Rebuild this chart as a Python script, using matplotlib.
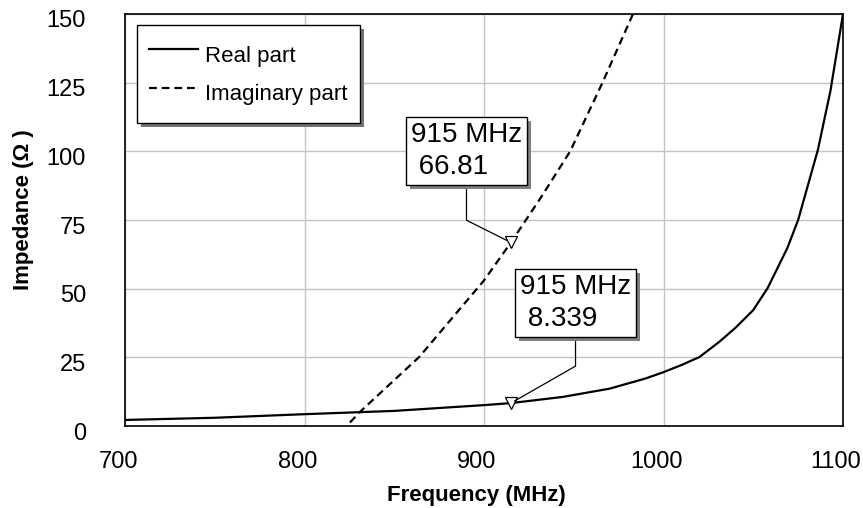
import matplotlib
matplotlib.use("Agg")
import matplotlib.pyplot as plt
import matplotlib.patheffects as pe
from matplotlib.transforms import ScaledTranslation

plt.rcParams['font.family'] = ['Liberation Sans', 'DejaVu Sans']

# data
freq_real = [700, 750, 800, 850, 900, 915, 944, 970, 990, 1000, 1010, 1020,
             1031, 1040, 1050, 1058, 1069, 1075, 1086, 1093, 1100]
real_part = [2.2, 3.0, 4.3, 5.5, 7.6, 8.34, 10.6, 13.6, 17.3, 19.6, 22.2, 25.1,
             30.6, 35.7, 42.2, 50.2, 64.8, 75, 100.5, 122, 150]

freq_imag = [815, 823.5, 831, 864, 900, 915, 932, 948, 966, 983, 990]
imag_part = [-5, 0, 5.2, 25.2, 53, 66.81, 83.5, 100, 125, 150, 161]

marker_freq = 915
marker_imag = 66.81
marker_real = 8.339

x_ticks = [700, 800, 900, 1000, 1100]
y_ticks = [0, 25, 50, 75, 100, 125, 150]

fig = plt.figure(figsize=(8.63, 5.08), dpi=100)
ax = fig.add_axes([125 / 863, 82 / 508, 718 / 863, 412 / 508])

ax.plot(freq_real, real_part, color='black', lw=1.6, label='Real part')
ax.plot(freq_imag, imag_part, color='black', lw=1.6, linestyle=(0, (3.5, 2.2)),
        label='Imaginary part')

ax.set_xlim(700, 1100)
ax.set_ylim(0, 150)
ax.set_xticks(x_ticks)
ax.set_yticks(y_ticks)
ax.grid(True, color='#c4c4c4', lw=1)
ax.set_axisbelow(True)
for s in ax.spines.values():
    s.set_linewidth(1.2)
ax.tick_params(length=0, labelsize=17)
ax.tick_params(axis='x', pad=18)
ax.tick_params(axis='y', pad=28)

# nudge tick labels a little like the original
dx = ScaledTranslation(-7 / 100, 0, fig.dpi_scale_trans)
dy = ScaledTranslation(0, -5 / 100, fig.dpi_scale_trans)
for lbl in ax.get_xticklabels():
    lbl.set_transform(lbl.get_transform() + dx)
for lbl in ax.get_yticklabels():
    lbl.set_transform(lbl.get_transform() + dy)

ax.set_xlabel('Frequency (MHz)', fontsize=16, fontweight='bold')
ax.set_ylabel('Impedance (Ω )', fontsize=16, fontweight='bold')
ax.xaxis.label.set_va('center')
ax.yaxis.label.set_va('center')
ax.xaxis.set_label_coords(0.489, -0.1675)
ax.yaxis.set_label_coords(-0.142, 0.524)

leg = ax.legend(loc='upper left', bbox_to_anchor=(0.017, 0.973), borderaxespad=0,
                fontsize=16, frameon=True, fancybox=False, edgecolor='black',
                framealpha=1, handlelength=2.2, handletextpad=0.3,
                handleheight=2.0, labelspacing=0.2, borderpad=0.55)
leg.get_frame().set_linewidth(1.0)
leg.get_frame().set_path_effects([pe.SimplePatchShadow(offset=(3, -3), shadow_rgbFace='0.45', alpha=1),
                                  pe.Normal()])

# markers
ax.plot([marker_freq, marker_freq], [marker_imag, marker_real], linestyle='none',
        marker='v', markersize=8, mfc='white', mec='black', mew=0.9, zorder=5)

shadow = [pe.SimplePatchShadow(offset=(3, -3), shadow_rgbFace='0.5', alpha=1), pe.Normal()]

def callout(val, offset, angle):
    t = ax.annotate(f'{marker_freq} MHz\n {val}', xy=(marker_freq, val),
                    xytext=offset, textcoords='offset points',
                    ha='left', va='top', fontsize=20, linespacing=1.3,
                    bbox=dict(boxstyle='square,pad=0.18', fc='white', ec='black', lw=1),
                    arrowprops=dict(arrowstyle='-', color='black', lw=0.9,
                                    relpos=(0.5, 0), shrinkA=0, shrinkB=3,
                                    connectionstyle=f'angle,angleA=90,angleB={angle},rad=0'),
                    zorder=6)
    t.get_bbox_patch().set_path_effects(shadow)
    return t

callout(marker_imag, (-72, 87), -26.6)
callout(marker_real, (6.5, 93), 29.8)

fig.savefig('out.png', dpi=100)
